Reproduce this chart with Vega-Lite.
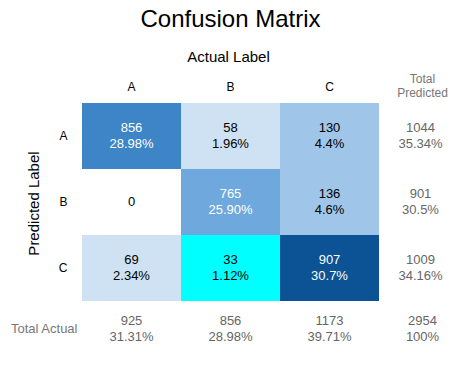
{
  "$schema": "https://vega.github.io/schema/vega-lite/v6.json",
  "width": 297,
  "height": 198,
  "padding": {"left": 9, "top": 8, "right": 0, "bottom": 5},
  "background": "white",
  "config": {
    "view": {"stroke": null},
    "font": "Liberation Sans",
    "text": {"font": "Liberation Sans"}
  },
  "title": {"text": "Confusion Matrix", "fontSize": 24, "fontWeight": "normal", "color": "#000000", "font": "Liberation Sans", "anchor": "middle", "offset": 17},
  "data": {
    "values": [
      {"pred": "A", "actual": "A", "count": 856, "pct": "28.98%", "type": "cell"},
      {"pred": "A", "actual": "B", "count": 58, "pct": "1.96%", "type": "cell"},
      {"pred": "A", "actual": "C", "count": 130, "pct": "4.4%", "type": "cell"},
      {"pred": "B", "actual": "A", "count": 0, "pct": "", "type": "cell"},
      {"pred": "B", "actual": "B", "count": 765, "pct": "25.90%", "type": "cell"},
      {"pred": "B", "actual": "C", "count": 136, "pct": "4.6%", "type": "cell"},
      {"pred": "C", "actual": "A", "count": 69, "pct": "2.34%", "type": "cell"},
      {"pred": "C", "actual": "B", "count": 33, "pct": "1.12%", "type": "cell"},
      {"pred": "C", "actual": "C", "count": 907, "pct": "30.7%", "type": "cell"},
      {"pred": "A", "actual": "Total Predicted", "count": 1044, "pct": "35.34%", "type": "rowtotal"},
      {"pred": "B", "actual": "Total Predicted", "count": 901, "pct": "30.5%", "type": "rowtotal"},
      {"pred": "C", "actual": "Total Predicted", "count": 1009, "pct": "34.16%", "type": "rowtotal"},
      {"pred": "Total Actual", "actual": "A", "count": 925, "pct": "31.31%", "type": "coltotal"},
      {"pred": "Total Actual", "actual": "B", "count": 856, "pct": "28.98%", "type": "coltotal"},
      {"pred": "Total Actual", "actual": "C", "count": 1173, "pct": "39.71%", "type": "coltotal"},
      {"pred": "Total Actual", "actual": "Total Predicted", "count": 2954, "pct": "100%", "type": "grand"}
    ]
  },
  "encoding": {
    "x": {
      "field": "actual", "type": "nominal",
      "scale": {"domain": ["A", "B", "C", "Total Predicted"], "range": [0, 396], "paddingInner": 0, "paddingOuter": 0},
      "axis": {
        "orient": "top", "title": "Actual Label", "titleFontSize": 15, "titleFontWeight": "normal", "titleColor": "#000000", "titlePadding": 8, "titleX": 146,
        "labelAngle": 0, "labelFontSize": 12, "labelBaseline": "middle", "labelLineHeight": 14,
        "labelPadding": {"condition": {"test": "datum.value == 'Total Predicted'", "value": 25}, "value": 17},
        "labelExpr": "datum.value == 'Total Predicted' ? ['Total', 'Predicted'] : datum.value",
        "labelColor": {"condition": {"test": "datum.value == 'Total Predicted'", "value": "#777777"}, "value": "#000000"},
        "labelOffset": {"condition": {"test": "datum.value == 'Total Predicted'", "value": -6}, "value": 0},
        "domain": false, "ticks": false, "tickSize": 0, "grid": false
      }
    },
    "y": {
      "field": "pred", "type": "nominal",
      "scale": {"domain": ["A", "B", "C", "Total Actual"], "range": [0, 264], "paddingInner": 0, "paddingOuter": 0},
      "axis": {
        "orient": "left", "title": "Predicted Label", "titleFontSize": 15, "titleFontWeight": "normal", "titleColor": "#000000",
        "titleX": -41, "titleY": 100, "titleAngle": 270, "titleAlign": "center", "titleBaseline": "bottom",
        "labelFontSize": {"condition": {"test": "datum.value == 'Total Actual'", "value": 13}, "value": 12},
        "labelPadding": {"condition": {"test": "datum.value == 'Total Actual'", "value": 5}, "value": 15},
        "labelBaseline": "middle",
        "labelColor": {"condition": {"test": "datum.value == 'Total Actual'", "value": "#777777"}, "value": "#000000"},
        "labelOffset": {"condition": {"test": "datum.value == 'Total Actual'", "value": -5}, "value": 0},
        "domain": false, "ticks": false, "tickSize": 0, "grid": false
      }
    }
  },
  "layer": [
    {
      "transform": [{"filter": "datum.type == 'cell'"}],
      "mark": {"type": "rect", "strokeWidth": 0},
      "encoding": {
        "color": {
          "condition": {"test": "datum.pred == 'C' && datum.actual == 'B'", "value": "#00ffff"},
          "field": "count", "type": "quantitative",
          "scale": {"type": "threshold", "domain": [1, 100, 500, 800, 880], "range": ["#ffffff", "#cfe2f3", "#9fc5e8", "#6fa8dc", "#3d85c6", "#0b5394"]},
          "legend": null
        }
      }
    },
    {
      "transform": [{"filter": "datum.type == 'cell' && datum.count > 0"}],
      "mark": {"type": "text", "fontSize": 13, "dy": -8},
      "encoding": {
        "text": {"field": "count", "type": "quantitative", "format": "d"},
        "color": {"condition": {"test": "datum.count > 700", "value": "#ffffff"}, "value": "#000000"}
      }
    },
    {
      "transform": [{"filter": "datum.type == 'cell' && datum.count == 0"}],
      "mark": {"type": "text", "fontSize": 13, "color": "#000000"},
      "encoding": {
        "text": {"field": "count", "type": "quantitative", "format": "d"}
      }
    },
    {
      "transform": [{"filter": "datum.type == 'cell' && datum.count > 0"}],
      "mark": {"type": "text", "fontSize": 13, "dy": 8},
      "encoding": {
        "text": {"field": "pct", "type": "nominal"},
        "color": {"condition": {"test": "datum.count > 700", "value": "#ffffff"}, "value": "#000000"}
      }
    },
    {
      "transform": [{"filter": "datum.type == 'rowtotal'"}],
      "mark": {"type": "text", "fontSize": 13, "dy": -8, "dx": -8, "color": "#666666"},
      "encoding": {"text": {"field": "count", "type": "quantitative", "format": "d"}}
    },
    {
      "transform": [{"filter": "datum.type == 'rowtotal'"}],
      "mark": {"type": "text", "fontSize": 13, "dy": 8, "dx": -8, "color": "#666666"},
      "encoding": {"text": {"field": "pct", "type": "nominal"}}
    },
    {
      "transform": [{"filter": "datum.type == 'coltotal'"}],
      "mark": {"type": "text", "fontSize": 13, "dy": -13, "color": "#666666"},
      "encoding": {"text": {"field": "count", "type": "quantitative", "format": "d"}}
    },
    {
      "transform": [{"filter": "datum.type == 'coltotal'"}],
      "mark": {"type": "text", "fontSize": 13, "dy": 3, "color": "#666666"},
      "encoding": {"text": {"field": "pct", "type": "nominal"}}
    },
    {
      "transform": [{"filter": "datum.type == 'grand'"}],
      "mark": {"type": "text", "fontSize": 13, "dy": -13, "dx": -6, "color": "#666666"},
      "encoding": {"text": {"field": "count", "type": "quantitative", "format": "d"}}
    },
    {
      "transform": [{"filter": "datum.type == 'grand'"}],
      "mark": {"type": "text", "fontSize": 13, "dy": 3, "dx": -6, "color": "#666666"},
      "encoding": {"text": {"field": "pct", "type": "nominal"}}
    }
  ]
}
